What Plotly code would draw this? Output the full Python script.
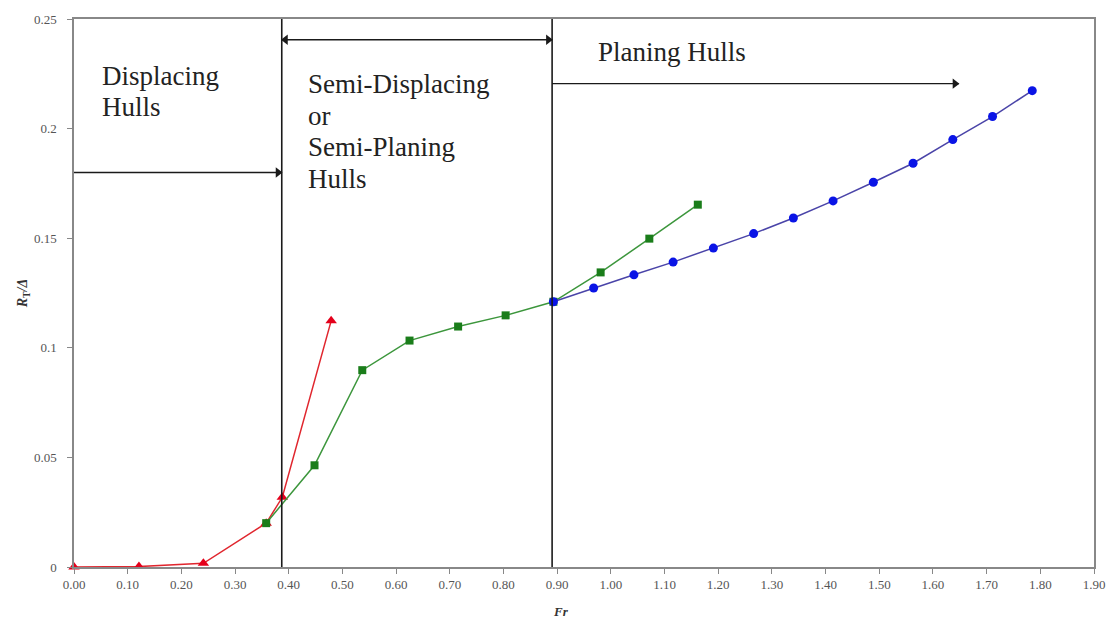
import plotly.graph_objects as go

# ---- data ----
red_fr = [0.0, 0.121, 0.241, 0.358, 0.388, 0.479]
red_rt = [0.0, 0.0002, 0.0017, 0.0200, 0.0318, 0.1123]

green_fr = [0.358, 0.448, 0.537, 0.625, 0.7155, 0.804, 0.893, 0.981, 1.0717, 1.162]
green_rt = [0.0200, 0.0464, 0.0898, 0.1033, 0.1097, 0.1148, 0.1210, 0.1344, 0.1498, 0.1653]

blue_fr = [0.893, 0.968, 1.043, 1.116, 1.191, 1.266, 1.340, 1.414, 1.489, 1.563, 1.637, 1.711, 1.785]
blue_rt = [0.1210, 0.1273, 0.1333, 0.1391, 0.1455, 0.1521, 0.1592, 0.1670, 0.1755, 0.1842, 0.1950, 0.2055, 0.2173]

x_ticks = [round(i * 0.1, 2) for i in range(20)]
y_ticks = [0, 0.05, 0.1, 0.15, 0.2, 0.25]

boundary_1 = 0.387   # displacing / semi-displacing
boundary_2 = 0.8906  # semi-displacing / planing
planing_arrow_end = 1.648

FONT = "Liberation Serif, Times New Roman, serif"

fig = go.Figure()

fig.add_trace(go.Scatter(
    x=red_fr, y=red_rt, mode="lines+markers",
    line=dict(color="#e0262e", width=1.5),
    marker=dict(symbol="triangle-up", size=10, color="#e4001b"),
    cliponaxis=False, showlegend=False))
fig.add_trace(go.Scatter(
    x=green_fr, y=green_rt, mode="lines+markers",
    line=dict(color="#3c963c", width=1.5),
    marker=dict(symbol="square", size=8, color="#1a7d1a"),
    cliponaxis=False, showlegend=False))
fig.add_trace(go.Scatter(
    x=blue_fr, y=blue_rt, mode="lines+markers",
    line=dict(color="#4a44a8", width=1.5),
    marker=dict(symbol="circle", size=9, color="#0a14e6"),
    cliponaxis=False, showlegend=False))

# vertical region boundaries
for bx in (boundary_1, boundary_2):
    fig.add_shape(type="line", xref="x", yref="y", x0=bx, x1=bx, y0=0, y1=0.25,
                  line=dict(color="#1a1a1a", width=1.6))

# region arrows (line + arrow-head markers)
arrows = [
    (0.0, boundary_1, 0.18, False),
    (boundary_1, boundary_2, 0.2405, True),
    (boundary_2, planing_arrow_end, 0.2205, False),
]
off = 0.007  # pull heads back so their tips meet the end points
for x0, x1, ya, double in arrows:
    fig.add_trace(go.Scatter(
        x=[x0, x1], y=[ya, ya], mode="lines",
        line=dict(color="#1a1a1a", width=1.4),
        hoverinfo="skip", showlegend=False))
    hx = [x1 - off] + ([x0 + off] if double else [])
    hs = ["triangle-right"] + (["triangle-left"] if double else [])
    fig.add_trace(go.Scatter(
        x=hx, y=[ya] * len(hx), mode="markers",
        marker=dict(symbol=hs, size=9, color="#1a1a1a"),
        hoverinfo="skip", showlegend=False))

text_font = dict(family=FONT, size=27, color="#222222")
labels = [
    ("Displacing", 0.0475, 0.2240),
    ("Hulls", 0.0475, 0.2100),
    ("Semi-Displacing", 0.432, 0.2202),
    ("or", 0.432, 0.2058),
    ("Semi-Planing", 0.432, 0.1914),
    ("Hulls", 0.432, 0.1770),
    ("Planing Hulls", 0.973, 0.2350),
]
for txt, lx, ly in labels:
    fig.add_annotation(x=lx, y=ly, xref="x", yref="y", text=txt, showarrow=False,
                       xanchor="left", yanchor="middle", font=text_font)

# axis titles
fig.add_annotation(x=(563 - 74) / 1024, y=-0.082, xref="paper", yref="paper",
                   xanchor="center", yanchor="middle",
                   text="<b><i>Fr</i></b>", showarrow=False,
                   font=dict(family=FONT, size=13, color="#333333"))
fig.add_annotation(x=-0.06, y=0.5, xref="paper", yref="paper",
                   text="<b><i>R</i><sub>T</sub><i>/Δ</i></b>", showarrow=False, textangle=-90,
                   font=dict(family=FONT, size=14, color="#333333"))

fig.update_xaxes(range=[0, 1.9], tickvals=x_ticks, tickformat=".2f",
                 ticks="outside", ticklen=5, tickcolor="#888888",
                 showline=True, linecolor="#888888", linewidth=1.5, mirror=True,
                 showgrid=False, zeroline=False,
                 tickfont=dict(family=FONT, size=13, color="#555555"))
fig.update_yaxes(range=[0, 0.25], tickvals=y_ticks,
                 ticks="outside", ticklen=5, tickcolor="#888888",
                 showline=True, linecolor="#888888", linewidth=1.5, mirror=True,
                 showgrid=False, zeroline=False, ticklabelstandoff=8,
                 tickfont=dict(family=FONT, size=13, color="#555555"))

fig.update_layout(width=1117, height=622,
                  margin=dict(l=74, r=19, t=17, b=55),
                  paper_bgcolor="white", plot_bgcolor="white",
                  showlegend=False)

fig.write_html("out.html")
